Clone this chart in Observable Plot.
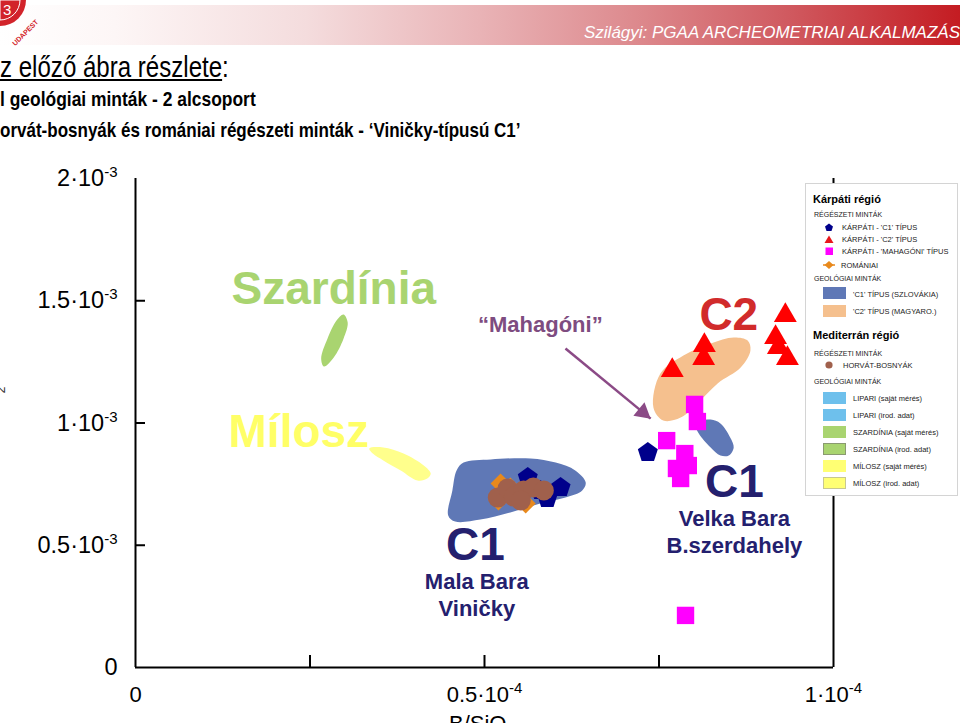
<!DOCTYPE html>
<html><head><meta charset="utf-8">
<script src="https://cdn.jsdelivr.net/npm/d3@7"></script>
<script src="https://cdn.jsdelivr.net/npm/@observablehq/plot@0.6"></script>
<style>
html,body{margin:0;padding:0;width:960px;height:723px;overflow:hidden;background:#fff;font-family:"Liberation Sans",Arial,sans-serif;}
#page{position:relative;width:960px;height:723px;overflow:hidden;}
.abs{position:absolute;white-space:nowrap;line-height:1;}
#bar{position:absolute;left:0;top:5px;width:960px;height:40px;
 background:linear-gradient(to right,#ffffff 0%,#fdf6f6 12%,#f4dcdd 32%,#e9b3b6 50%,#dd8a8e 66%,#d05a60 82%,#c41c22 100%);}
.narrow{transform:scaleX(0.83);transform-origin:0 0;}
#chart{position:absolute;left:0;top:150px;}
#legend{position:absolute;left:805px;top:183px;}
</style></head><body>
<div id="page">
 <div id="bar"></div>
 <svg class="abs" style="left:0;top:0;overflow:visible" width="60" height="50">
  <path d="M0,0 H26 A26,26 0 0 1 0,26 Z" fill="#d2232a"/>
  <path d="M0,0 H20 A20,20 0 0 1 0,20 Z" fill="none" stroke="#fff" stroke-width="1"/>
  <text x="3" y="15" font-size="15" fill="#fff" font-family="Liberation Sans">3</text>
  <text x="6" y="40" font-size="7" font-weight="bold" fill="#d2232a" transform="rotate(-45 18 32)">UDAPEST</text>
 </svg>
 <div class="abs" style="left:584px;top:23.6px;font-size:17px;font-style:italic;color:#fff;">Szilágyi: PGAA ARCHEOMETRIAI ALKALMAZÁS</div>
 <div class="abs narrow" style="left:0;top:52.5px;font-size:29px;color:#000;"><u>z előző ábra részlete</u>:</div>
 <div class="abs narrow" style="left:0;top:88.2px;font-size:21px;font-weight:bold;color:#000;">l geológiai minták - 2 alcsoport</div>
 <div class="abs" style="left:0;top:119.2px;font-size:21px;font-weight:bold;color:#000;transform:scaleX(0.81);transform-origin:0 0;">orvát-bosnyák és romániai régészeti minták - ‘Viničky-típusú C1’</div>
 <div id="chart"></div>
 <div class="abs" style="left:-2px;top:384px;font-size:12px;color:#333;transform:rotate(-90deg);">2</div>
 <div class="abs" style="left:449px;top:713.4px;font-size:22px;color:#000;">B/SiO<sub style="font-size:14px">2</sub></div>
 <svg id="legend" width="155" height="314" font-family="Liberation Sans, Arial, sans-serif">
  <rect x="0.5" y="0.5" width="152" height="312" fill="#fff" stroke="#d4d4d4"/>
  <text x="8" y="20" font-size="11" font-weight="bold">Kárpáti régió</text>
  <text x="9" y="34" font-size="7" fill="#222">RÉGÉSZETI MINTÁK</text>
  <path d="M24,40.5 L28,43.4 L26.5,48 L21.5,48 L20,43.4 Z" fill="#00008b"/>
  <text x="37" y="46.5" font-size="7.5" fill="#222">KÁRPÁTI - 'C1' TÍPUS</text>
  <path d="M24,52.5 L28.5,60 L19.5,60 Z" fill="#e8161b"/>
  <text x="37" y="59" font-size="7.5" fill="#222">KÁRPÁTI - 'C2' TÍPUS</text>
  <rect x="20.5" y="64.5" width="7.5" height="7.5" fill="#ff00ff"/>
  <text x="37" y="71" font-size="7.5" fill="#222">KÁRPÁTI - 'MAHAGÓNI' TÍPUS</text>
  <line x1="18" y1="82" x2="30" y2="82" stroke="#e8891c" stroke-width="1.5"/>
  <path d="M24,78 L28.5,82 L24,86 L19.5,82 Z" fill="#e8891c"/>
  <text x="36" y="84.5" font-size="7.5" fill="#222">ROMÁNIAI</text>
  <text x="9" y="98" font-size="7" fill="#222">GEOLÓGIAI MINTÁK</text>
  <rect x="18" y="104" width="23" height="12" fill="#5f78b6"/>
  <text x="48" y="114" font-size="7.5" fill="#222">'C1' TÍPUS (SZLOVÁKIA)</text>
  <rect x="18" y="122" width="23" height="12" fill="#f5c08e"/>
  <text x="48" y="131" font-size="7.5" fill="#222">'C2' TÍPUS (MAGYARO.)</text>
  <text x="8" y="156" font-size="11" font-weight="bold">Mediterrán régió</text>
  <text x="9" y="173" font-size="7" fill="#222">RÉGÉSZETI MINTÁK</text>
  <circle cx="24" cy="182" r="3.6" fill="#a0604c"/>
  <text x="38" y="185" font-size="7.5" fill="#222">HORVÁT-BOSNYÁK</text>
  <text x="9" y="201" font-size="7" fill="#222">GEOLÓGIAI MINTÁK</text>
  <rect x="18" y="209" width="23" height="12" fill="#6ec0ec"/>
  <text x="48" y="218" font-size="7.5" fill="#222">LIPARI (saját mérés)</text>
  <rect x="18" y="226" width="23" height="12" fill="#6ec0ec"/>
  <text x="48" y="235" font-size="7.5" fill="#222">LIPARI (irod. adat)</text>
  <rect x="18" y="243" width="23" height="12" fill="#a9d470"/>
  <text x="48" y="251.5" font-size="7.5" fill="#222">SZARDÍNIA (saját mérés)</text>
  <rect x="18.5" y="260.5" width="22" height="11" fill="#a9d470" stroke="#8a9a70"/>
  <text x="48" y="268.5" font-size="7.5" fill="#222">SZARDÍNIA (irod. adat)</text>
  <rect x="18" y="277" width="23" height="12" fill="#ffff73"/>
  <text x="48" y="285.5" font-size="7.5" fill="#222">MÍLOSZ (saját mérés)</text>
  <rect x="18.5" y="294.5" width="22" height="11" fill="#ffff73" stroke="#c8c890"/>
  <text x="48" y="302.5" font-size="7.5" fill="#222">MÍLOSZ (irod. adat)</text>
 </svg>
</div>
<script>
// ---------- data (x = B/SiO2, y = ratio on vertical axis) ----------
const xTickValues = [0, 0.5e-4, 1e-4];
const xTickLabels = ["0", "0.5·10^-4", "1·10^-4"];
const xTickMarks = [0.25e-4, 0.5e-4, 0.75e-4];
const yTickValues = [0, 0.5e-3, 1e-3, 1.5e-3, 2e-3];
const yTickLabels = ["0", "0.5·10^-3", "1·10^-3", "1.5·10^-3", "2·10^-3"];
const yTickMarks = [0.5e-3, 1e-3, 1.5e-3];

// geological fields (outline vertices)
const c2HungaryField = [[7.52e-5,1.202e-3],[7.85e-5,1.276e-3],[8.24e-5,1.325e-3],[8.57e-5,1.350e-3],[8.77e-5,1.337e-3],[8.81e-5,1.297e-3],[8.67e-5,1.227e-3],[8.34e-5,1.162e-3],[8.09e-5,1.092e-3],[7.81e-5,1.022e-3],[7.56e-5,1.010e-3],[7.42e-5,1.063e-3]];
const c1SlovakiaField = [[4.70e-5,0.838e-3],[5.09e-5,0.851e-3],[5.66e-5,0.855e-3],[6.02e-5,0.838e-3],[6.30e-5,0.806e-3],[6.45e-5,0.757e-3],[6.40e-5,0.724e-3],[6.16e-5,0.695e-3],[5.80e-5,0.671e-3],[5.37e-5,0.634e-3],[4.94e-5,0.605e-3],[4.58e-5,0.597e-3],[4.48e-5,0.622e-3],[4.54e-5,0.724e-3],[4.60e-5,0.806e-3]];
const c1SlovakiaField2 = [[8.02e-5,0.998e-3],[8.24e-5,1.014e-3],[8.38e-5,0.998e-3],[8.52e-5,0.941e-3],[8.57e-5,0.900e-3],[8.50e-5,0.867e-3],[8.38e-5,0.867e-3],[8.24e-5,0.900e-3],[8.07e-5,0.957e-3]];
const sardiniaField = [[2.98e-5,1.444e-3],[3.04e-5,1.411e-3],[2.98e-5,1.345e-3],[2.84e-5,1.268e-3],[2.70e-5,1.231e-3],[2.66e-5,1.264e-3],[2.75e-5,1.345e-3],[2.88e-5,1.419e-3]];
const milosField = [[3.35e-5,0.896e-3],[3.55e-5,0.900e-3],[3.84e-5,0.875e-3],[4.13e-5,0.826e-3],[4.23e-5,0.793e-3],[4.18e-5,0.773e-3],[4.04e-5,0.765e-3],[3.80e-5,0.806e-3],[3.55e-5,0.847e-3],[3.40e-5,0.875e-3]];

// archaeological samples
const karpatiC1 = [[5.62e-5,0.777e-3],[5.80e-5,0.724e-3],[6.09e-5,0.736e-3],[5.90e-5,0.691e-3],[7.34e-5,0.879e-3]];
const karpatiC2 = [[7.69e-5,1.215e-3],[8.15e-5,1.317e-3],[8.14e-5,1.264e-3],[9.31e-5,1.440e-3],[9.17e-5,1.350e-3],[9.21e-5,1.309e-3],[9.34e-5,1.264e-3]];
const karpatiMahagoni = [[8.01e-5,1.076e-3],[8.05e-5,1.006e-3],[7.61e-5,0.928e-3],[7.87e-5,0.875e-3],[7.92e-5,0.826e-3],[7.75e-5,0.814e-3],[7.81e-5,0.773e-3],[7.88e-5,0.213e-3]];
const romaniai = [[5.23e-5,0.753e-3],[5.20e-5,0.683e-3],[5.59e-5,0.671e-3],[5.37e-5,0.736e-3]];
const horvatBosnyak = [[5.19e-5,0.695e-3],[5.33e-5,0.732e-3],[5.42e-5,0.699e-3],[5.56e-5,0.724e-3],[5.70e-5,0.736e-3],[5.85e-5,0.724e-3],[5.52e-5,0.683e-3]];

// annotations
const regionLabels = [{text:"Szardínia", x:0.284e-4, y:1.545e-3}];
const milosLabels = [{text:"Mílosz", x:0.234e-4, y:0.961e-3}];
const mahagoniLabel = [{text:"“Mahagóni”", x:0.580e-4, y:1.399e-3}];
const mahagoniArrow = [{x1:0.616e-4, y1:1.305e-3, x2:0.738e-4, y2:1.018e-3}];
const c2Label = [{text:"C2", x:0.850e-4, y:1.440e-3}];
const c1Labels = [{text:"C1", x:0.858e-4, y:0.757e-3},{text:"C1", x:0.487e-4, y:0.499e-3}];
const siteLabels = [
  {text:"Velka Bara", x:0.858e-4, y:0.609e-3},
  {text:"B.szerdahely", x:0.858e-4, y:0.499e-3},
  {text:"Mala Bara", x:0.489e-4, y:0.348e-3},
  {text:"Viničky", x:0.489e-4, y:0.241e-3}
];

// ---------- drawing ----------
const pentagon = {
  draw(ctx, size) {
    const R = Math.sqrt(size / Math.PI) * 1.05;
    for (let k = 0; k < 5; k++) {
      const a = -Math.PI / 2 + k * 2 * Math.PI / 5;
      const px = R * Math.cos(a), py = R * Math.sin(a);
      if (k === 0) ctx.moveTo(px, py); else ctx.lineTo(px, py);
    }
    ctx.closePath();
  }
};
const xLab = new Map(xTickValues.map((v, i) => [v, xTickLabels[i]]));
const yLab = new Map(yTickValues.map((v, i) => [v, yTickLabels[i]]));
const X = d => d[0], Y = d => d[1];
const FONT = "Liberation Sans, Arial, sans-serif";
const field = (data, fill) => Plot.line(data, {x: X, y: Y, curve: "catmull-rom-closed", fill, stroke: "none"});

const chart = Plot.plot({
  width: 960, height: 573,
  marginLeft: 135, marginRight: 127, marginTop: 28, marginBottom: 56,
  x: {domain: [0, 1e-4]},
  y: {domain: [0, 2e-3]},
  style: {fontFamily: FONT, background: "transparent", overflow: "visible"},
  marks: [
    field(c2HungaryField, "#f5c08e"),
    field(c1SlovakiaField, "#5f78b6"),
    field(c1SlovakiaField2, "#5f78b6"),
    field(sardiniaField, "#a9d470"),
    field(milosField, "#ffff8c"),
    Plot.ruleX([0, 1e-4], {stroke: "#000", strokeWidth: 2}),
    Plot.ruleY([0], {stroke: "#000", strokeWidth: 2}),
    Plot.ruleX(xTickMarks, {stroke: "#000", strokeWidth: 2, insetTop: 477}),
    Plot.ruleY(yTickMarks, {stroke: "#000", strokeWidth: 2, insetRight: 688}),
    Plot.axisX(xTickValues, {tickSize: 0, tickPadding: 19, tickFormat: d => xLab.get(d), fontSize: 22, label: null, fill: "#000"}),
    Plot.axisY(yTickValues, {tickSize: 0, tickPadding: 18, tickFormat: d => yLab.get(d), fontSize: 23.5, label: null, fill: "#000"}),
    Plot.dot(karpatiC1, {x: X, y: Y, symbol: pentagon, r: 10, fill: "#00008b", stroke: "none"}),
    Plot.dot(romaniai, {x: X, y: Y, symbol: "diamond2", r: 9, fill: "#e8891c", stroke: "none"}),
    Plot.dot(horvatBosnyak, {x: X, y: Y, symbol: "circle", r: 10, fill: "#a0604c", stroke: "none"}),
    Plot.dot(karpatiC2, {x: X, y: Y, symbol: "triangle", r: 8.5, fill: "#ff0000", stroke: "none"}),
    Plot.dot(karpatiMahagoni, {x: X, y: Y, symbol: "square", r: 9.8, fill: "#ff00ff", stroke: "none"}),
    Plot.link(mahagoniArrow, {x1: "x1", y1: "y1", x2: "x2", y2: "y2", stroke: "#8b4a86", strokeWidth: 2.5}),
    Plot.dot(mahagoniArrow, {x: "x2", y: "y2", symbol: "triangle", r: 6.5, rotate: 129.5, dx: -7.8, dy: -6.4, fill: "#8b4a86", stroke: "none"}),
    Plot.text(regionLabels, {x: "x", y: "y", text: "text", fill: "#a9d470", fontSize: 46, fontWeight: "bold", fontFamily: FONT}),
    Plot.text(milosLabels, {x: "x", y: "y", text: "text", fill: "#ffff66", fontSize: 46, fontWeight: "bold", fontFamily: FONT}),
    Plot.text(mahagoniLabel, {x: "x", y: "y", text: "text", fill: "#7e4c80", fontSize: 22, fontWeight: "bold", fontFamily: FONT}),
    Plot.text(c2Label, {x: "x", y: "y", text: "text", fill: "#d12b2b", fontSize: 46, fontWeight: "bold", fontFamily: FONT}),
    Plot.text(c1Labels, {x: "x", y: "y", text: "text", fill: "#24206e", fontSize: 46, fontWeight: "bold", fontFamily: FONT}),
    Plot.text(siteLabels, {x: "x", y: "y", text: "text", fill: "#24206e", fontSize: 22, fontWeight: "bold", fontFamily: FONT})
  ]
});
document.getElementById("chart").append(chart);

// superscript exponents in tick labels
const NS = "http://www.w3.org/2000/svg";
chart.querySelectorAll("text").forEach(t => {
  const s = t.textContent;
  if (!s.includes("^")) return;
  const [base, exp] = s.split("^");
  t.textContent = "";
  const a = document.createElementNS(NS, "tspan"); a.textContent = base;
  const b = document.createElementNS(NS, "tspan"); b.textContent = exp;
  b.setAttribute("dy", "-0.6em"); b.setAttribute("font-size", "15");
  t.append(a, b);
});
</script>
</body></html>
